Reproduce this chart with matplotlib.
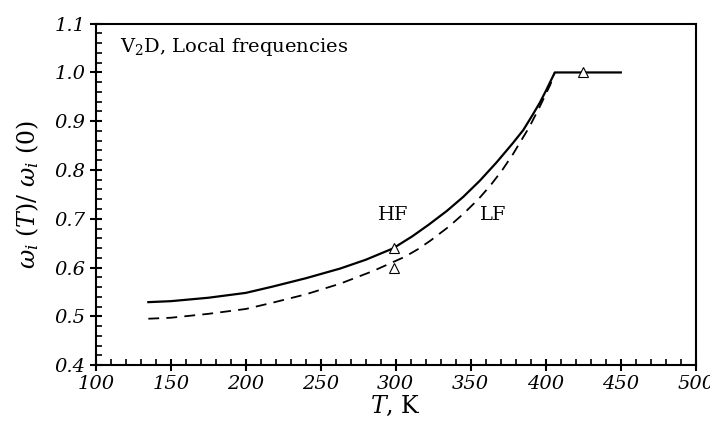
import matplotlib.pyplot as plt
from matplotlib.ticker import MultipleLocator, FormatStrFormatter

# HF (solid) curve
hf_T = [135, 150, 175, 200, 218, 240, 263, 280, 298, 311, 322, 334, 345, 356, 367, 378, 385, 391, 396, 400, 406, 450]
hf_w = [0.529, 0.531, 0.538, 0.548, 0.561, 0.578, 0.598, 0.616, 0.639, 0.664, 0.688, 0.716, 0.745, 0.778, 0.815, 0.855, 0.882, 0.912, 0.938, 0.962, 1.0, 1.0]

# LF (dashed) curve
lf_T = [135, 150, 175, 200, 218, 240, 263, 285, 306, 315, 323, 335, 345, 355, 363, 371, 378, 389, 396, 403, 406]
lf_w = [0.495, 0.497, 0.505, 0.515, 0.528, 0.545, 0.567, 0.593, 0.622, 0.638, 0.655, 0.683, 0.710, 0.740, 0.768, 0.800, 0.832, 0.888, 0.930, 0.975, 1.0]

# experimental points (open triangles)
exp_T = [299, 299, 425]
exp_w = [0.641, 0.600, 1.0]

plt.rcParams["font.family"] = ["DejaVu Serif"]
plt.rcParams["mathtext.fontset"] = "dejavuserif"

fig = plt.figure(figsize=(7.1, 4.23), dpi=100)
ax = fig.add_axes([0.135, 0.137, 0.845, 0.807])

ax.plot(hf_T, hf_w, color="black", lw=1.6, solid_joinstyle="round")
ax.plot(lf_T, lf_w, color="black", lw=1.3, ls=(0, (6, 4)))
ax.plot(exp_T, exp_w, ls="none", marker="^", ms=6.5, mfc="white", mec="black", mew=0.8)

ax.text(298, 0.708, "HF", fontsize=14, ha="center", va="center")
ax.text(365, 0.708, "LF", fontsize=14, ha="center", va="center")
ax.text(116, 1.053, r"V$_2$D, Local frequencies", fontsize=14, ha="left", va="center")

ax.set_xlim(100, 500)
ax.set_ylim(0.4, 1.1)
ax.xaxis.set_major_locator(MultipleLocator(50))
ax.xaxis.set_minor_locator(MultipleLocator(10))
ax.yaxis.set_major_locator(MultipleLocator(0.1))
ax.yaxis.set_minor_locator(MultipleLocator(0.02))
ax.yaxis.set_major_formatter(FormatStrFormatter("%.1f"))

ax.tick_params(which="major", direction="inout", length=8, width=1.5, top=False, right=False)
ax.tick_params(which="minor", direction="in", length=4, width=1.2, top=False, right=False)
for lab in ax.get_xticklabels() + ax.get_yticklabels():
    lab.set_fontstyle("italic")
    lab.set_fontsize(14)
for sp in ax.spines.values():
    sp.set_linewidth(1.5)

ax.set_xlabel(r"$T$, K", fontsize=17, labelpad=0)
ax.set_ylabel(r"$\omega_i$ ($T$)/ $\omega_i$ (0)", fontsize=17, labelpad=10)

fig.savefig("out.png", dpi=100, facecolor="white")
